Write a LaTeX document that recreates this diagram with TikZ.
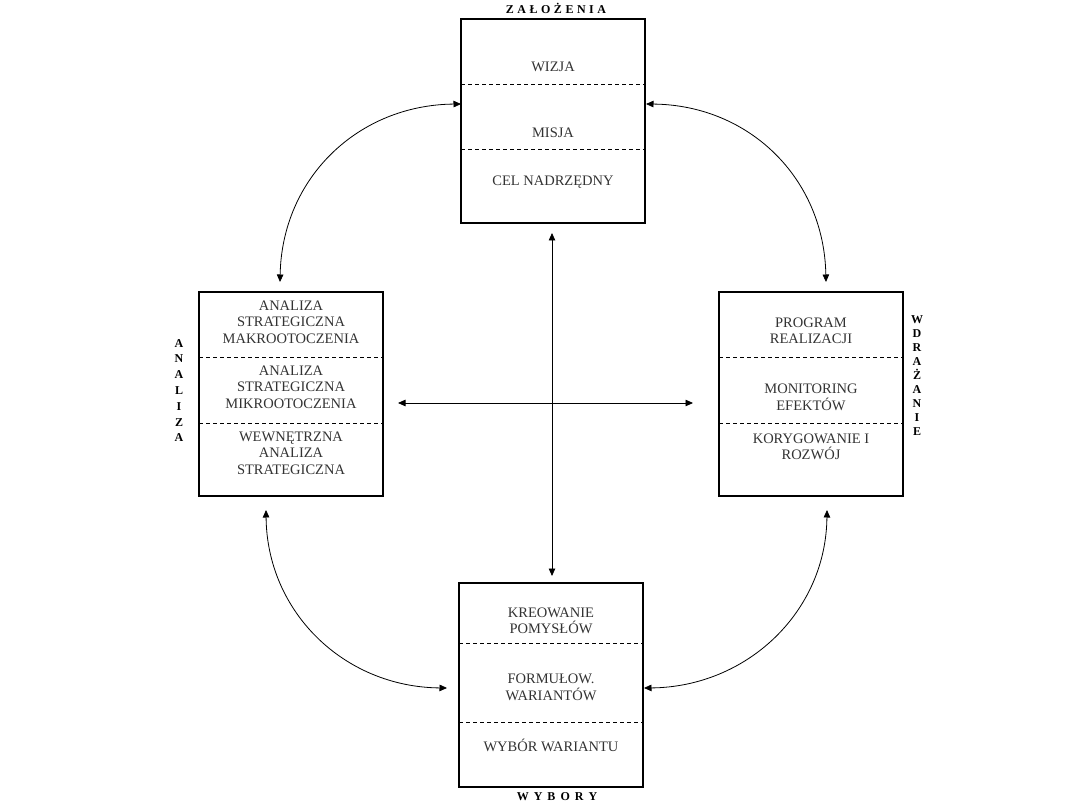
\documentclass[tikz,border=0pt]{standalone}
\usepackage{fontspec}
\setmainfont{Liberation Serif}
\usetikzlibrary{arrows.meta}
\begin{document}
\begin{tikzpicture}[x=1pt,y=-1pt,
 box/.style={draw, line width=1.2pt, minimum width=184pt, minimum height=204pt, inner sep=0pt, outer sep=0pt},
 sep/.style={dash pattern=on 4pt off 3pt, line width=0.9pt},
 lbl/.style={font={\fontsize{14.5}{16.5}\selectfont}, align=center, text=black!80, inner sep=0pt},
 ttl/.style={font={\fontsize{12}{12}\bfseries\selectfont}, inner sep=0pt},
 link/.style={line width=0.8pt, {Triangle[length=7.5pt,width=6.5pt]}-{Triangle[length=7.5pt,width=6.5pt]}}]
\useasboundingbox (0,0) rectangle (1080,810);
\fill[white] (0,0) rectangle (1080,810);

% boxes
\node[box] (zal) at (553,121) {};
\node[box] (ana) at (291,394) {};
\node[box] (wdr) at (811,394) {};
\node[box] (wyb) at (551,685) {};

% dashed separators
\draw[sep] ([yshift=-65pt]zal.north west) -- ([yshift=-65pt]zal.north east);
\draw[sep] ([yshift=-130pt]zal.north west) -- ([yshift=-130pt]zal.north east);
\draw[sep] ([yshift=-65pt]ana.north west) -- ([yshift=-65pt]ana.north east);
\draw[sep] ([yshift=-131pt]ana.north west) -- ([yshift=-131pt]ana.north east);
\draw[sep] ([yshift=-65pt]wdr.north west) -- ([yshift=-65pt]wdr.north east);
\draw[sep] ([yshift=-131pt]wdr.north west) -- ([yshift=-131pt]wdr.north east);
\draw[sep] ([yshift=-60pt]wyb.north west) -- ([yshift=-60pt]wyb.north east);
\draw[sep] ([yshift=-139pt]wyb.north west) -- ([yshift=-139pt]wyb.north east);

% texts
\node[lbl] (wizja) at (553,67) {WIZJA};
\node[lbl] (misja) at (553,133) {MISJA};
\node[lbl] (cel) at (553,182) {CEL NADRZĘDNY};

\node[lbl] (makro) at (291,322) {ANALIZA\\STRATEGICZNA\\MAKROOTOCZENIA};
\node[lbl] (mikro) at (291,387) {ANALIZA\\STRATEGICZNA\\MIKROOTOCZENIA};
\node[lbl] (wewn) at (291,453) {WEWNĘTRZNA\\ANALIZA\\STRATEGICZNA};

\node[lbl] (prog) at (811,331) {PROGRAM\\REALIZACJI};
\node[lbl] (moni) at (811,397.5) {MONITORING\\EFEKTÓW};
\node[lbl] (kory) at (811,447) {KORYGOWANIE I\\ROZWÓJ};

\node[lbl] (kreo) at (551,621) {KREOWANIE\\POMYSŁÓW};
\node[lbl] (form) at (551,687.5) {FORMUŁOW.\\WARIANTÓW};
\node[lbl] (wybw) at (551,745) {WYBÓR WARIANTU};

% titles
\node[ttl] (tzal) at (556,8) {Z\kern3.5pt A\kern3.5pt Ł\kern3.5pt O\kern3.5pt Ż\kern3.5pt E\kern3.5pt N\kern3.5pt I\kern3.5pt A};
\node[ttl] (twyb) at (557,797) {W\kern5pt Y\kern5pt B\kern5pt O\kern5pt R\kern5pt Y};
\node[ttl, align=center, font={\fontsize{12}{15.8}\bfseries\selectfont}] (tana) at (179,390.5) {A\\N\\A\\L\\I\\Z\\A};
\node[ttl, align=center, font={\fontsize{12}{14.1}\bfseries\selectfont}] (twdr) at (917,375.5) {W\\D\\R\\A\\Ż\\A\\N\\I\\E};

% connector end points
\coordinate (tlA) at (461,104);
\coordinate (tlB) at (280,282);
\coordinate (trA) at (646,104);
\coordinate (trB) at (826,282);
\coordinate (blA) at (266,510);
\coordinate (blB) at (447,688);
\coordinate (brA) at (827,510);
\coordinate (brB) at (644,688);
\coordinate (vT) at (552,233);
\coordinate (vB) at (552,576);
\coordinate (hL) at (398,403);
\coordinate (hR) at (693,403);

% curved arrows
\draw[link] (tlA) .. controls (358,105) and (282,178) .. (tlB);
\draw[link] (trA) .. controls (749,105) and (824,178) .. (trB);
\draw[link] (blA) .. controls (267,612) and (344,687) .. (blB);
\draw[link] (brA) .. controls (826,612) and (747,687) .. (brB);

% cross
\draw[link] (vT) -- (vB);
\draw[link] (hL) -- (hR);
\end{tikzpicture}
\end{document}
